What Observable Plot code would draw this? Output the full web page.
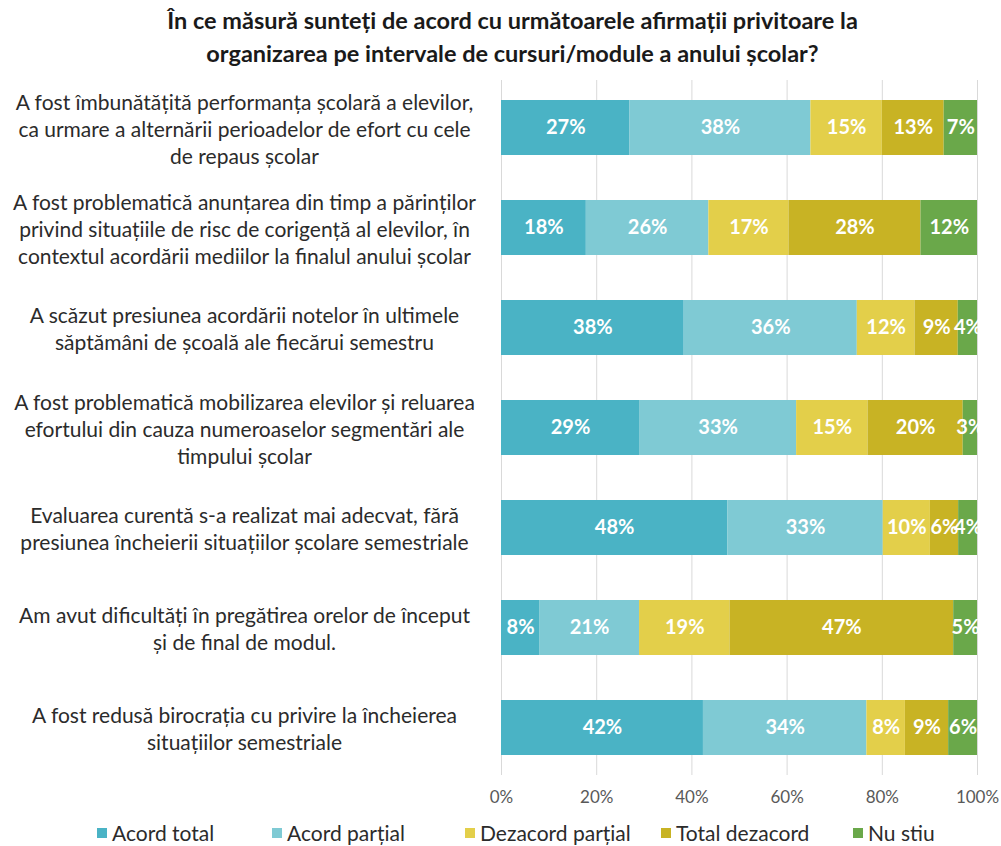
<!DOCTYPE html>
<html>
<head>
<meta charset="utf-8">
<script src="https://cdn.jsdelivr.net/npm/d3@7"></script>
<script src="https://cdn.jsdelivr.net/npm/@observablehq/plot@0.6"></script>
<style>
  html, body { margin: 0; padding: 0; background: #fff; }
  body { width: 1001px; height: 846px; overflow: hidden; font-family: Lato, "Open Sans", sans-serif; }
  #title { height: 72px; box-sizing: border-box; padding: 4px 0 0 24px; text-align: center; font-weight: bold; font-size: 23.5px; line-height: 33px; color: #1a1a1a; }
  #legend { position: relative; height: 36px; font-size: 21px; color: #2b2b2b; }
  .item { position: absolute; top: 10px; display: flex; align-items: center; white-space: nowrap; }
  .sw { width: 10px; height: 10px; margin-right: 5px; }
</style>
</head>
<body>
<div id="title">În ce măsură sunteți de acord cu următoarele afirmații privitoare la<br>organizarea pe intervale de cursuri/module a anului școlar?</div>
<div id="chart"></div>
<div id="legend"></div>
<script>
const questions = [
  "A fost îmbunătățită performanța școlară a elevilor,\nca urmare a alternării perioadelor de efort cu cele\nde repaus școlar",
  "A fost problematică anunțarea din timp a părinților\nprivind situațiile de risc de corigență al elevilor, în\ncontextul acordării mediilor la finalul anului școlar",
  "A scăzut presiunea acordării notelor în ultimele\nsăptămâni de școală ale fiecărui semestru",
  "A fost problematică mobilizarea elevilor și reluarea\nefortului din cauza numeroaselor segmentări ale\ntimpului școlar",
  "Evaluarea curentă s-a realizat mai adecvat, fără\npresiunea încheierii situațiilor școlare semestriale",
  "Am avut dificultăți în pregătirea orelor de început\nși de final de modul.",
  "A fost redusă birocrația cu privire la încheierea\nsituațiilor semestriale"
];
const categories = ["Acord total", "Acord parțial", "Dezacord parțial", "Total dezacord", "Nu stiu"];
const colors = ["#4ab3c5", "#7fcad4", "#e3cf4a", "#c8b324", "#6aa84a"];
const acordTotal      = [27, 18, 38, 29, 48,  8, 42];
const acordPartial    = [38, 26, 36, 33, 33, 21, 34];
const dezacordPartial = [15, 17, 12, 15, 10, 19,  8];
const totalDezacord   = [13, 28,  9, 20,  6, 47,  9];
const nuStiu          = [ 7, 12,  4,  3,  4,  5,  6];
const ticks = [0, 0.2, 0.4, 0.6, 0.8, 1];

const series = [acordTotal, acordPartial, dezacordPartial, totalDezacord, nuStiu];
const data = [];
questions.forEach((q, i) => {
  categories.forEach((c, j) => data.push({q, cat: c, value: series[j][i]}));
});

const chart = Plot.plot({
  width: 1001,
  height: 738,
  marginTop: 8,
  marginBottom: 35,
  marginLeft: 501,
  marginRight: 24,
  style: {fontFamily: "Lato, 'Open Sans', sans-serif", background: "#fff"},
  x: {domain: [0, 1], axis: null},
  y: {domain: questions, axis: null, paddingInner: 0.45, paddingOuter: 0.2},
  color: {domain: categories, range: colors},
  marks: [
    Plot.ruleX(ticks, {stroke: "#d9d9d9", strokeWidth: 1}),
    Plot.barX(data, Plot.stackX({offset: "normalize", x: "value", y: "q", fill: "cat", order: categories})),
    Plot.text(data, Plot.stackX({offset: "normalize", x: "value", y: "q", z: "cat", order: categories,
      text: d => d.value + "%", fill: "white", fontWeight: "bold", fontSize: 20})),
    Plot.text(questions, {y: d => d, text: d => d, frameAnchor: "left", dx: -257, textAnchor: "middle",
      lineHeight: 1.29, fontSize: 21, fill: "#2b2b2b"}),
    Plot.axisX(ticks, {tickSize: 0, tickPadding: 15, tickFormat: d3.format(".0%"), fontSize: 17, color: "#595959", label: null})
  ]
});
document.getElementById("chart").appendChild(chart);

const legendX = [97, 272, 465, 661, 853];
const legend = document.getElementById("legend");
categories.forEach((c, i) => {
  const it = document.createElement("div");
  it.className = "item";
  it.style.left = legendX[i] + "px";
  const sw = document.createElement("span");
  sw.className = "sw";
  sw.style.background = colors[i];
  const t = document.createElement("span");
  t.textContent = c;
  it.appendChild(sw); it.appendChild(t);
  legend.appendChild(it);
});
</script>
</body>
</html>
